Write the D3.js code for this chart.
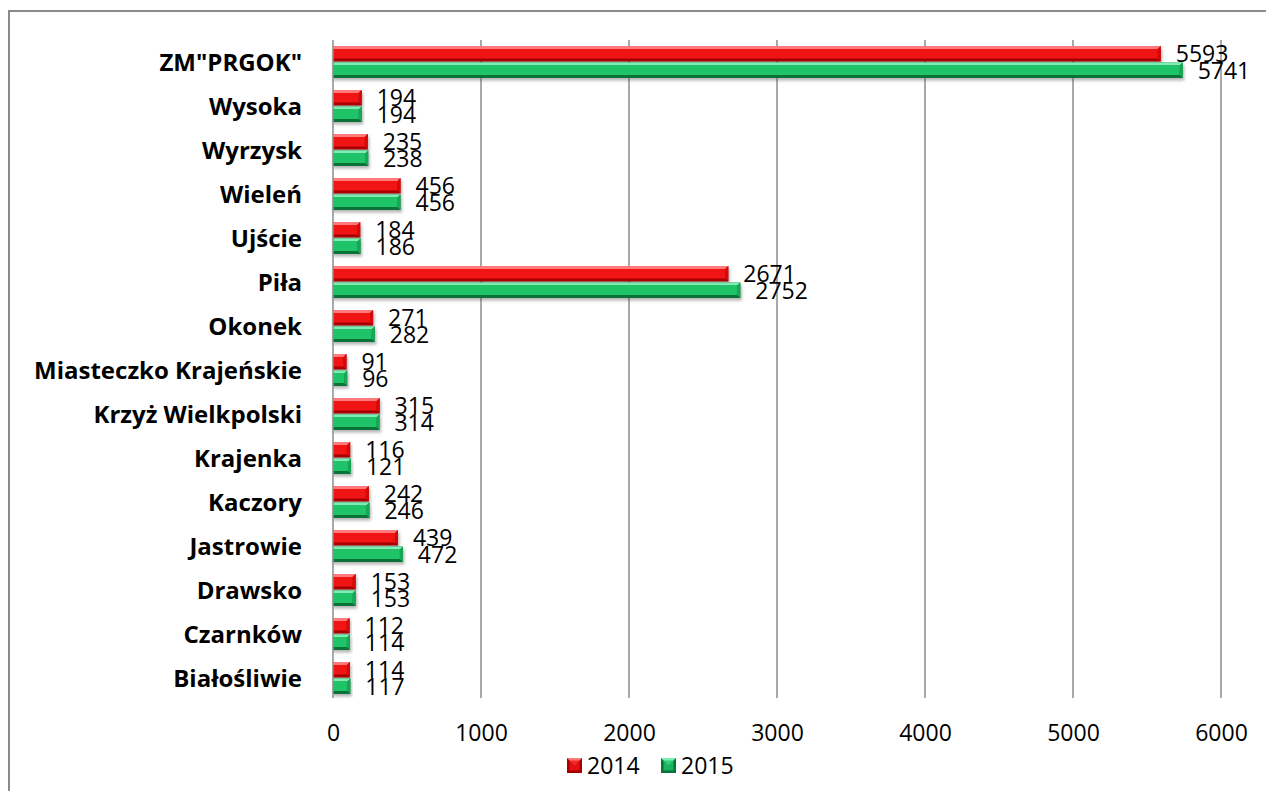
<!DOCTYPE html>
<html>
<head>
<meta charset="utf-8">
<script src="https://cdn.jsdelivr.net/npm/d3@7"></script>
<style>
  html, body { margin: 0; padding: 0; background: #fff; }
  svg { display: block; }
</style>
</head>
<body>
<svg id="chart" width="1266" height="791"></svg>
<script>
const categories = ["ZM\"PRGOK\"", "Wysoka", "Wyrzysk", "Wieleń", "Ujście", "Piła", "Okonek",
  "Miasteczko Krajeńskie", "Krzyż Wielkpolski", "Krajenka", "Kaczory", "Jastrowie",
  "Drawsko", "Czarnków", "Białośliwie"];
const values2014 = [5593, 194, 235, 456, 184, 2671, 271, 91, 315, 116, 242, 439, 153, 112, 114];
const values2015 = [5741, 194, 238, 456, 186, 2752, 282, 96, 314, 121, 246, 472, 153, 114, 117];
const seriesNames = ["2014", "2015"];
const xTicks = [0, 1000, 2000, 3000, 4000, 5000, 6000];

const palette = {
  "2014": { light: "#ff7a7a", face: "#f01414", side: "#d80808", dark: "#a80000" },
  "2015": { light: "#7bf0b0", face: "#1fc368", side: "#17a857", dark: "#0b7338" }
};

const svg = d3.select("#chart");
const plot = { left: 333, right: 1221, top: 40, bottom: 700 };

// outer border
svg.append("rect").attr("x", 9).attr("y", 11).attr("width", 1400).attr("height", 1000)
  .attr("fill", "none").attr("stroke", "#8a8a8a").attr("stroke-width", 2);

const x = d3.scaleLinear().domain([0, 6000]).range([plot.left, plot.right]);
const y = d3.scaleBand().domain(categories).range([plot.top, plot.bottom]).paddingInner(0).paddingOuter(0);
const inner = d3.scaleBand().domain(seriesNames).range([-16, 16]).paddingInner(0.06);

const defs = svg.append("defs");
const f = defs.append("filter").attr("id", "shadow").attr("x", "-5%").attr("y", "-50%").attr("width", "110%").attr("height", "250%");
f.append("feGaussianBlur").attr("stdDeviation", 1.6);

// gridlines
svg.append("g").selectAll("line").data(xTicks.filter(d => d > 0)).join("line")
  .attr("x1", d => x(d)).attr("x2", d => x(d))
  .attr("y1", plot.top).attr("y2", plot.bottom - 2)
  .attr("stroke", "#8c8c8c").attr("stroke-width", 1.5);

// x axis tick labels
const xAxis = d3.axisBottom(x).tickValues(xTicks).tickSize(0).tickPadding(0).tickFormat(d3.format("d"));
const gx = svg.append("g").attr("transform", `translate(0, ${plot.bottom + 33})`).call(xAxis);
gx.select(".domain").remove();
gx.selectAll("text").attr("font-family", "'Open Sans', sans-serif").attr("font-size", 23)
  .attr("fill", "#000").attr("dy", "0.36em");

// category labels
const yAxis = d3.axisLeft(y).tickSize(0).tickPadding(0);
const gy = svg.append("g").attr("transform", `translate(302, 0)`).call(yAxis);
gy.select(".domain").remove();
gy.selectAll("text").attr("font-family", "'Open Sans', sans-serif").attr("font-size", 24)
  .attr("font-weight", "bold").attr("fill", "#000").attr("dy", "0.36em");

// bars
const rows = categories.map((c, i) => ({ cat: c, vals: [values2014[i], values2015[i]] }));
const barData = [];
rows.forEach(r => seriesNames.forEach((s, j) => barData.push({ cat: r.cat, series: s, v: r.vals[j] })));

const bh = inner.bandwidth();
const b = 3;
const gBars = svg.append("g");
const barG = gBars.selectAll("g.bar").data(barData).join("g").attr("class", "bar")
  .attr("transform", d => `translate(0, ${y(d.cat) + y.bandwidth() / 2 + inner(d.series)})`);

barG.append("rect").attr("x", x(0)).attr("y", 2.5).attr("width", d => x(d.v) - x(0) + 1.5).attr("height", bh)
  .attr("fill", "#444").attr("opacity", 0.4).attr("filter", "url(#shadow)");
barG.append("rect").attr("x", x(0)).attr("y", 0).attr("width", d => x(d.v) - x(0)).attr("height", bh)
  .attr("fill", d => palette[d.series].dark);
barG.append("path").attr("d", d => {
  const x0 = x(0), x1 = x(d.v);
  return `M${x0},0L${x1},0L${x1 - b},${b}L${x0},${b}Z`;
}).attr("fill", d => palette[d.series].light);
barG.append("path").attr("d", d => {
  const x1 = x(d.v);
  return `M${x1},0L${x1},${bh}L${x1 - b},${bh - b}L${x1 - b},${b}Z`;
}).attr("fill", d => palette[d.series].side);
barG.append("rect").attr("x", x(0)).attr("y", b).attr("width", d => Math.max(0, x(d.v) - x(0) - b)).attr("height", bh - 2 * b)
  .attr("fill", d => palette[d.series].face);

// value labels
barG.append("text").attr("x", d => x(d.v) + 15).attr("y", bh / 2).attr("dy", "0.36em")
  .attr("font-family", "'Open Sans', sans-serif").attr("font-size", 23).attr("fill", "#000")
  .text(d => d.v);

// left axis line
svg.append("line").attr("x1", x(0)).attr("x2", x(0)).attr("y1", plot.top).attr("y2", plot.bottom - 2)
  .attr("stroke", "#8c8c8c").attr("stroke-width", 1.5);

// legend
const legendX = d3.scalePoint().domain(seriesNames).range([567, 661]);
const lg = svg.append("g").selectAll("g").data(seriesNames).join("g")
  .attr("transform", d => `translate(${legendX(d)}, 758)`);
lg.append("rect").attr("width", 15).attr("height", 15).attr("fill", d => palette[d].dark);
lg.append("path").attr("d", "M0,0L15,0L7.5,7.5Z").attr("fill", d => palette[d].light);
lg.append("rect").attr("x", 2.5).attr("y", 2.5).attr("width", 10).attr("height", 10).attr("fill", d => palette[d].face).attr("opacity", 0.8);
lg.append("text").attr("x", 20).attr("y", 7.5).attr("dy", "0.36em")
  .attr("font-family", "'Open Sans', sans-serif").attr("font-size", 23).attr("fill", "#000")
  .text(d => d);
</script>
</body>
</html>
